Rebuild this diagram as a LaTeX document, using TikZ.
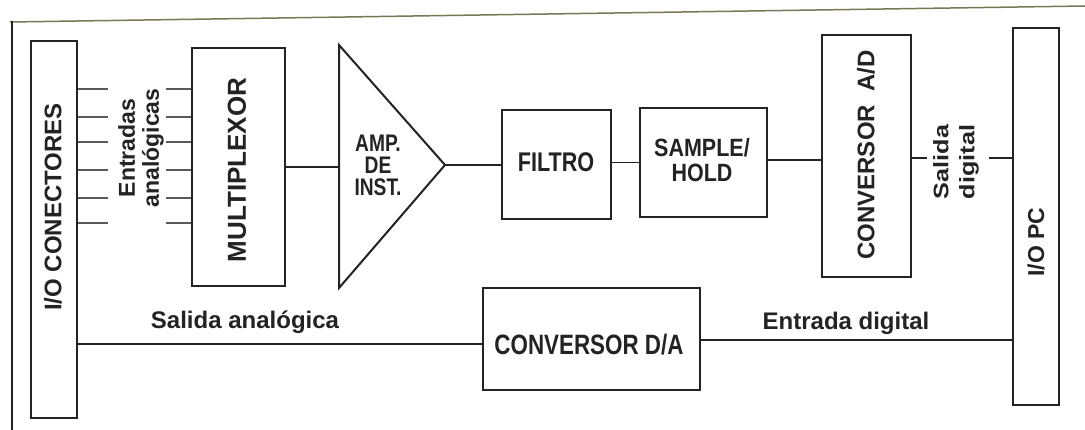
\documentclass[tikz,border=0pt]{standalone}
\usepackage{fontspec}
\setmainfont{Liberation Sans}
\newfontfamily\nfEight[FakeStretch=0.8]{Liberation Sans}
\newfontfamily\nfEightSix[FakeStretch=0.86]{Liberation Sans}
\newfontfamily\nfWide[FakeStretch=1.2]{Liberation Sans}
\definecolor{ink}{RGB}{35,35,35}
\definecolor{stubc}{RGB}{90,90,90}
\definecolor{framec}{RGB}{120,120,85}
\begin{document}
\begin{tikzpicture}[x=1pt,y=-1pt,
  box/.style={draw=ink, line width=2pt, inner sep=0pt},
  wire/.style={draw=ink, line width=1.8pt},
  stub/.style={draw=stubc, line width=2pt},
  txt/.style={inner sep=0pt, text=ink, align=center}]
\useasboundingbox[fill=white] (0,0) rectangle (1085,430);
% outer frame of the scan
\draw[framec, line width=1.5pt] (10,22) -- (1085,6);
\draw[ink, line width=1.5pt] (12,21) -- (12,430);
% blocks
\node[box, minimum width=46, minimum height=377] (ioc) at (54,229.5) {};
\node[box, minimum width=93, minimum height=238] (mux) at (238.5,167) {};
\node[box, minimum width=109, minimum height=109] (filtro) at (556.5,164.5) {};
\node[box, minimum width=127, minimum height=109] (sh) at (703.5,162.5) {};
\node[box, minimum width=89, minimum height=242] (ad) at (866.5,156) {};
\node[box, minimum width=46, minimum height=377] (iopc) at (1036,216.5) {};
\node[box, minimum width=217, minimum height=102] (da) at (591.5,339) {};
% amplifier
\coordinate (ampT) at (339,45);
\coordinate (ampB) at (339,288);
\coordinate (ampA) at (445,165);
\draw[ink, line width=2pt, line join=miter] (ampT) -- (ampA) -- (ampB) -- cycle;
% texts
\node[txt, rotate=90, font=\bfseries\fontsize{24}{28}\selectfont] (iotxt) at (53,207) {I/O CONECTORES};
\node[txt, rotate=90, font=\bfseries\fontsize{26}{30}\selectfont] (muxtxt) at (237,170) {MULTIPLEXOR};
\node[txt, rotate=90, font=\bfseries\fontsize{23}{24}\selectfont] (entxt) at (141,148) {Entradas\\analógicas};
\node[txt, font=\nfEight\bfseries\fontsize{24}{22}\selectfont] (amptxt) at (378,165) {AMP.\\DE\\INST.};
\node[txt, font=\nfEight\bfseries\fontsize{27}{30}\selectfont] (filtxt) at (556,162) {FILTRO};
\node[txt, font=\nfEightSix\bfseries\fontsize{25}{25}\selectfont] (shtxt) at (702,160) {SAMPLE/\\HOLD};
\node[txt, rotate=90, font=\bfseries\fontsize{24}{28}\selectfont] (adtxt) at (866,155) {CONVERSOR\ \ A/D};
\node[txt, rotate=90, font=\nfWide\bfseries\fontsize{21}{26}\selectfont] (sdtxt) at (956,162) {Salida\\digital};
\node[txt, rotate=90, font=\bfseries\fontsize{23}{27}\selectfont] (pctxt) at (1036,242) {I/O PC};
\node[txt, font=\bfseries\fontsize{24}{28}\selectfont] (satxt) at (245,322) {Salida analógica};
\node[txt, font=\bfseries\fontsize{24}{28}\selectfont] (edtxt) at (846,323) {Entrada digital};
\node[txt, font=\nfEight\bfseries\fontsize{28}{32}\selectfont] (datxt) at (589,345) {CONVERSOR D/A};
% analog input stubs
\foreach \yy in {89,117,142,170,198,223} {
  \draw[stub] (ioc.east |- 0,\yy) -- ++(30,0);
  \draw[stub] (mux.west |- 0,\yy) -- ++(-25,0);
}
% signal chain
\draw[wire] (mux.east) -- (mux.east -| ampT);
\draw[wire] (ampA) -- (ampA -| filtro.west);
\draw[wire] (sh.west -| filtro.east) -- (sh.west);
\draw[wire] (sh.east |- 0,160) -- (ad.west |- 0,160);
\coordinate (sd1) at (927,158);
\coordinate (sd2) at (989,158);
\draw[wire] (ad.east |- sd1) -- (sd1);
\draw[wire] (sd2) -- (iopc.west |- sd2);
% output path
\draw[wire] (ioc.east |- 0,344) -- (da.west |- 0,344);
\draw[wire] (da.east |- 0,340) -- (iopc.west |- 0,340);
\end{tikzpicture}
\end{document}
